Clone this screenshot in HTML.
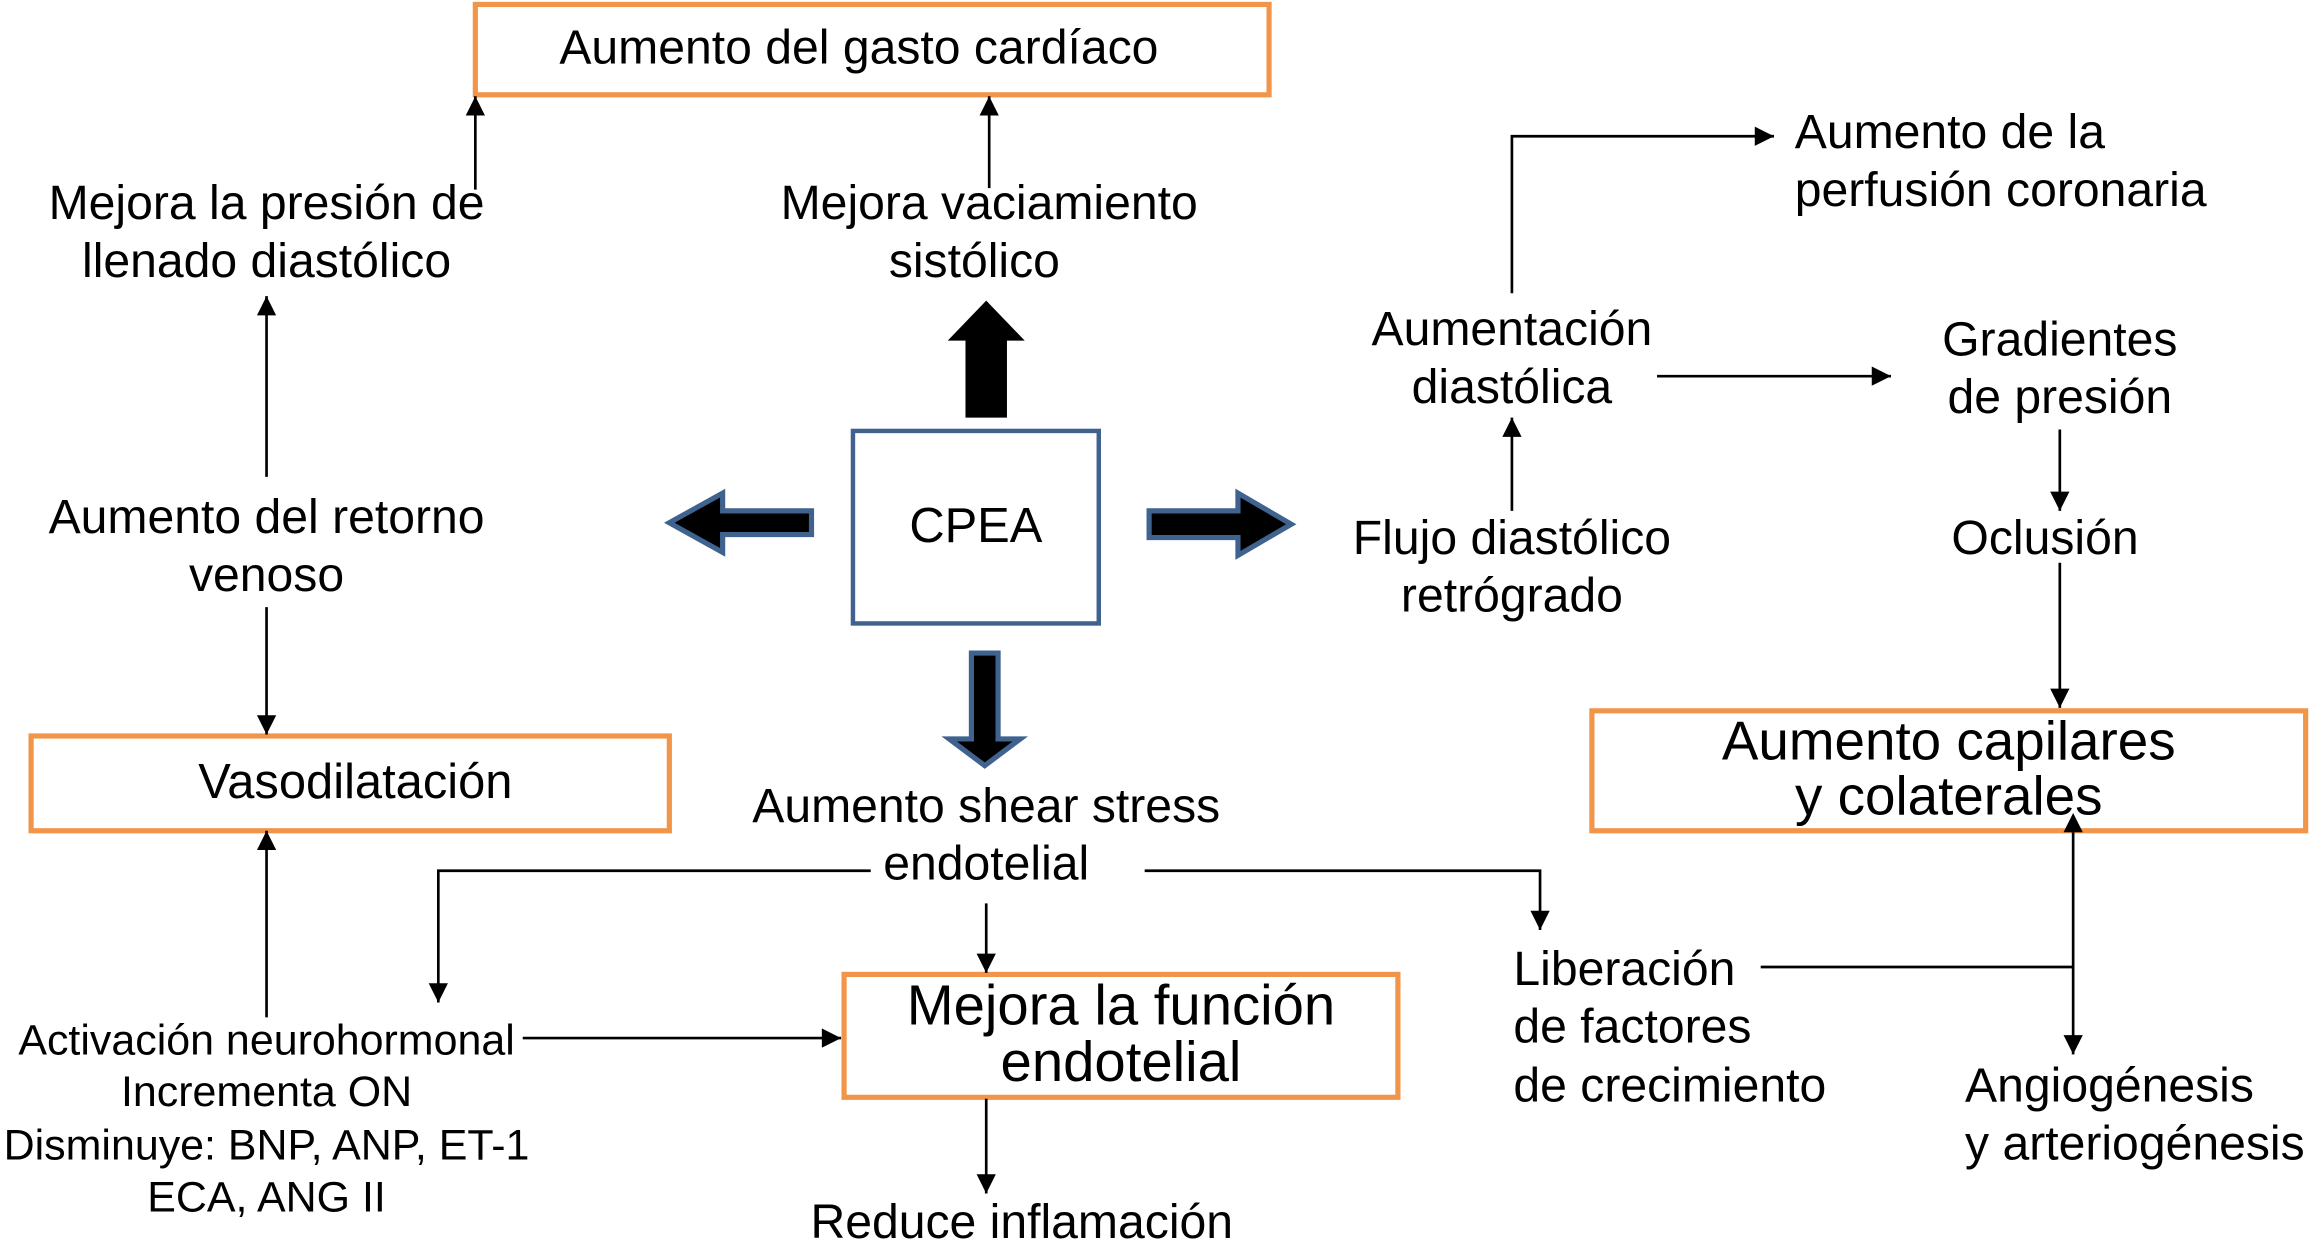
<!DOCTYPE html>
<html><head><meta charset="utf-8"><style>
html,body{margin:0;padding:0;background:#fff;}
svg{display:block;}
text{font-family:"Liberation Sans",Arial,sans-serif;fill:#000;font-size:32.5px;}
</style></head><body>
<svg width="2316" height="1246" viewBox="0 0 1564 841.4" xmlns="http://www.w3.org/2000/svg">
<defs>
<marker id="ah" viewBox="0 0 10 10" refX="10" refY="5" markerWidth="15" markerHeight="13" markerUnits="userSpaceOnUse" orient="auto"><path d="M0,0 L10,5 L0,10 z" fill="#000"/></marker>
<marker id="ahs" viewBox="0 0 10 10" refX="0" refY="5" markerWidth="15" markerHeight="13" markerUnits="userSpaceOnUse" orient="auto-start-reverse"><path d="M0,0 L10,5 L0,10 z" fill="#000"/></marker>
</defs>
<rect width="1564" height="842" fill="#fff"/>
<g fill="none" stroke="#f0954a" stroke-width="3.5">
<rect x="321" y="3" width="536" height="61"/>
<rect x="21" y="497" width="431" height="64"/>
<rect x="570" y="658" width="374" height="83"/>
<rect x="1075" y="480" width="482" height="81"/>
</g>
<rect x="576" y="291" width="166" height="130" fill="none" stroke="#3f628e" stroke-width="3"/>
<g stroke="#000" stroke-width="1.8" fill="none">
<line x1="321" y1="128" x2="321" y2="65" marker-end="url(#ah)"/>
<line x1="668" y1="127" x2="668" y2="65" marker-end="url(#ah)"/>
<line x1="180" y1="322" x2="180" y2="200" marker-end="url(#ah)"/>
<line x1="180" y1="410" x2="180" y2="496" marker-end="url(#ah)"/>
<line x1="180" y1="687" x2="180" y2="561" marker-end="url(#ah)"/>
<line x1="353" y1="701" x2="568" y2="701" marker-end="url(#ah)"/>
<polyline points="588,588 296,588 296,677" marker-end="url(#ah)"/>
<polyline points="773,588 1040,588 1040,628" marker-end="url(#ah)"/>
<line x1="666" y1="610" x2="666" y2="657" marker-end="url(#ah)"/>
<line x1="666" y1="742" x2="666" y2="806" marker-end="url(#ah)"/>
<polyline points="1021,198 1021,92 1198,92" marker-end="url(#ah)"/>
<line x1="1119" y1="254" x2="1277" y2="254" marker-end="url(#ah)"/>
<line x1="1391" y1="290" x2="1391" y2="345" marker-end="url(#ah)"/>
<line x1="1391" y1="380" x2="1391" y2="478" marker-end="url(#ah)"/>
<line x1="1021" y1="345" x2="1021" y2="282" marker-end="url(#ah)"/>
<line x1="1189" y1="653" x2="1400" y2="653"/>
<line x1="1400" y1="562" x2="1400" y2="712" marker-start="url(#ahs)" marker-end="url(#ah)"/>
</g>
<path d="M652,282 L652,230 L640,230 L666,203 L692,230 L680,230 L680,282 z" fill="#000"/>
<g fill="#000" stroke="#3f628e" stroke-width="3.5" stroke-linejoin="miter">
<path d="M548,345 L488,345 L488,333 L452,353 L488,373 L488,361 L548,361 z"/>
<path d="M776,345 L836,345 L836,333 L872,354 L836,375 L836,363 L776,363 z"/>
<path d="M656,441 L674,441 L674,499 L689,499 L665,517 L641,499 L656,499 z"/>
</g>
<g text-anchor="middle">
<text x="580" y="43">Aumento del gasto cardíaco</text>
<text x="180" y="148">Mejora la presión de</text>
<text x="180" y="187">llenado diastólico</text>
<text x="668" y="148">Mejora vaciamiento</text>
<text x="658" y="187">sistólico</text>
<text x="659" y="366" style="font-size:33px">CPEA</text>
<text x="180" y="360">Aumento del retorno</text>
<text x="180" y="399">venoso</text>
<text x="240" y="539" style="font-size:33px">Vasodilatación</text>
<text x="666" y="555">Aumento shear stress</text>
<text x="666" y="594">endotelial</text>
<text x="757" y="692" style="font-size:38px">Mejora la función</text>
<text x="757" y="730" style="font-size:38px">endotelial</text>
<text x="690" y="836">Reduce inflamación</text>
<text x="1021" y="233">Aumentación</text>
<text x="1021" y="272">diastólica</text>
<text x="1391" y="240">Gradientes</text>
<text x="1391" y="279">de presión</text>
<text x="1381" y="374">Oclusión</text>
<text x="1021" y="374">Flujo diastólico</text>
<text x="1021" y="413">retrógrado</text>
<text x="1316" y="513" style="font-size:37px">Aumento capilares</text>
<text x="1316" y="550" style="font-size:37px">y colaterales</text>
<text x="180" y="712" style="font-size:29px">Activación neurohormonal</text>
<text x="180" y="747" style="font-size:29px">Incrementa ON</text>
<text x="180" y="783" style="font-size:29px">Disminuye: BNP, ANP, ET-1</text>
<text x="180" y="818" style="font-size:29px">ECA, ANG II</text>
</g>
<g>
<text x="1212" y="100">Aumento de la</text>
<text x="1212" y="139">perfusión coronaria</text>
<text x="1022" y="665">Liberación</text>
<text x="1022" y="704">de factores</text>
<text x="1022" y="744">de crecimiento</text>
<text x="1327" y="744">Angiogénesis</text>
<text x="1327" y="783">y arteriogénesis</text>
</g>
</svg>
</body></html>
